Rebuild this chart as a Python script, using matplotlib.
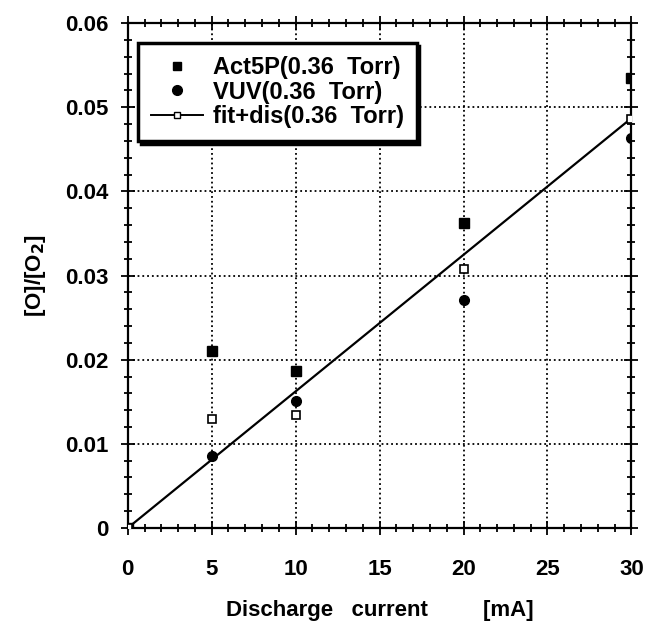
import numpy as np
import matplotlib.pyplot as plt
from matplotlib.lines import Line2D
from matplotlib.ticker import MultipleLocator, FuncFormatter

plt.rcParams['font.family'] = ['Liberation Sans', 'DejaVu Sans']

# discharge current [mA]
current = [0, 5, 10, 20, 30]
# [O]/[O2] from the different methods
act5p = [0.0, 0.0210, 0.0187, 0.0363, 0.0535]
vuv = [0.0, 0.0086, 0.0151, 0.0271, 0.0463]
fit_dis = [0.0, 0.0130, 0.0134, 0.0308, 0.0486]
# straight fit line
fit_x = [0, 30]
fit_y = [0.0, 0.0487]

fig = plt.figure(figsize=(6.45, 6.23), dpi=100)
ax = fig.add_axes([0.198, 0.1525, 0.781, 0.8105])

ax.plot(fit_x, fit_y, color='black', lw=1.6, zorder=3)
ax.plot(current, act5p, 's', color='black', ms=6.5, zorder=4)
ax.plot(current, vuv, 'o', color='black', ms=7, zorder=4)
ax.plot(current, fit_dis, 's', color='black', mfc='white', mew=1.2, ms=5.5, zorder=5)

ax.set_xlim(0, 30)
ax.set_ylim(0, 0.06)
ax.xaxis.set_major_locator(MultipleLocator(5))
ax.xaxis.set_minor_locator(MultipleLocator(1))
ax.yaxis.set_major_locator(MultipleLocator(0.01))
ax.yaxis.set_minor_locator(MultipleLocator(0.002))
ax.yaxis.set_major_formatter(FuncFormatter(lambda v, p: '0' if abs(v) < 1e-9 else f'{v:.2f}'))

ax.tick_params(which='both', direction='inout', top=True, right=True, width=1.3)
ax.tick_params(which='major', length=10, labelsize=16)
ax.tick_params(which='minor', length=6)
ax.tick_params(axis='x', which='major', pad=17)
ax.tick_params(axis='y', which='major', pad=9)
for lab in ax.get_xticklabels() + ax.get_yticklabels():
    lab.set_fontweight('bold')
for sp in ax.spines.values():
    sp.set_linewidth(1.6)

ax.grid(True, which='major', color='black', linestyle=':', linewidth=1.3)

ax.set_xlabel('Discharge   current         [mA]', fontsize=16, fontweight='bold', labelpad=15)
ax.set_ylabel(r'[O]/[O$_\mathbf{2}$]', fontsize=16, fontweight='bold', labelpad=12)

handles = [
    Line2D([], [], ls='none', marker='s', color='black', ms=6),
    Line2D([], [], ls='none', marker='o', color='black', ms=7),
    Line2D([], [], ls='-', color='black', lw=1.4, marker='s', mfc='white', ms=5),
]
labels = ['Act5P(0.36  Torr)', 'VUV(0.36  Torr)', 'fit+dis(0.36  Torr)']
leg = ax.legend(handles, labels, loc='upper left', bbox_to_anchor=(0.021, 0.96),
                borderaxespad=0, prop={'size': 17, 'weight': 'bold'}, fancybox=False,
                framealpha=1, edgecolor='black', handlelength=2.2, labelspacing=0.06,
                handletextpad=0.4, shadow={'color': 'black', 'alpha': 1}, borderpad=0.55)
leg.get_frame().set_linewidth(2.5)

plt.savefig('out.png', dpi=100)
